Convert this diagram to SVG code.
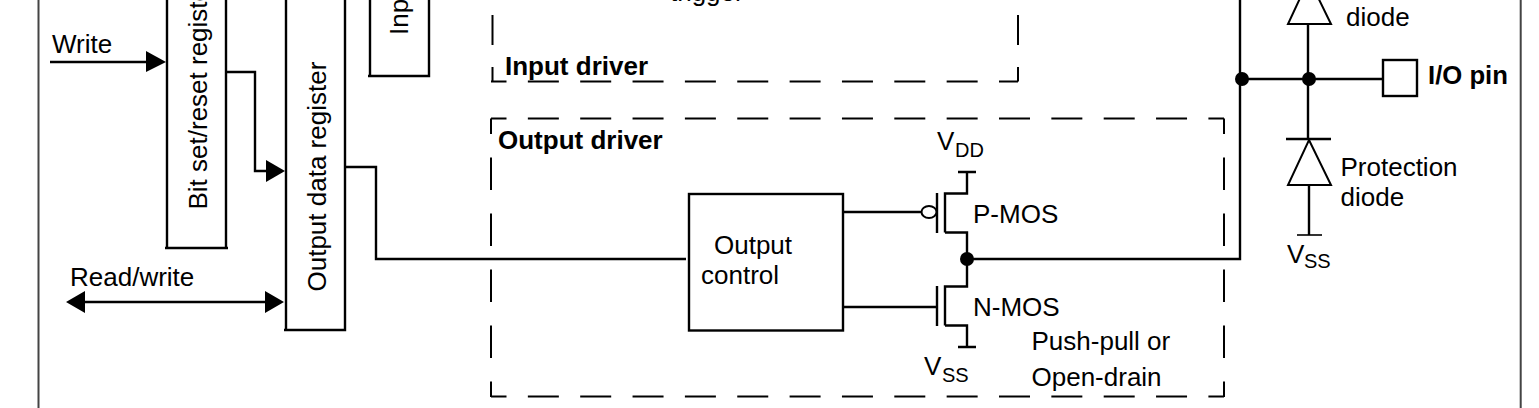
<svg xmlns="http://www.w3.org/2000/svg" width="1539" height="408" viewBox="0 0 1539 408">
<style>
text{font-family:"Liberation Sans",Arial,sans-serif;font-size:26px;fill:#000}
.b{font-weight:700}
.s{font-size:20px}
.w{fill:none;stroke:#000;stroke-width:2.4}
.t{fill:none;stroke:#000;stroke-width:1.6}
.box{fill:#fff;stroke:#000;stroke-width:2.4}
.h{fill:none;stroke:#000;stroke-width:2;stroke-dasharray:31 21.35;stroke-dashoffset:15.5}
.v{fill:none;stroke:#000;stroke-width:2;stroke-dasharray:32.5 23.5;stroke-dashoffset:17}
.d{fill:#000}
</style>
<rect width="1539" height="408" fill="#fff"/>
<g id="frame"><path d="M38.5 0V408M1520.7 0V408" fill="none" stroke="#444" stroke-width="2"/></g>
<g id="input-driver">
<path class="h" d="M491 81.500H1018"/>
<path class="t" style="stroke-width:2" d="M492.500 15V45M492.500 67V81.500M1018 15V45M1018 67V81.500"/>
<text class="b" x="505" y="75">Input driver</text>
<text x="670" y="1">trigger</text>
</g>
<g id="output-driver">
<path class="h" d="M491 118.500H1224"/>
<path class="h" d="M491 396.500H1224"/>
<path class="v" d="M491 118.500V397"/>
<path class="v" d="M1224 118.500V397"/>
<text class="b" x="498" y="149">Output driver</text>
<text x="1031.500" y="350">Push-pull or</text>
<text x="1031.500" y="386">Open-drain</text>
</g>
<g id="bit-set-reset-register">
<path class="w" d="M167 -5V248H226V-5M165 248H228"/>
<text transform="translate(207 209.500) rotate(-90)">Bit set/reset registers</text>
</g>
<g id="output-data-register">
<path class="w" d="M286 -5V330H345V-5M284 330H346"/>
<text transform="translate(326 291.500) rotate(-90)">Output data register</text>
</g>
<g id="input-data-register">
<path class="w" d="M370 -5V76H429V-5M368 76H430"/>
<text transform="translate(408 35) rotate(-90)">Input data register</text>
</g>
<g id="output-control">
<rect class="box" x="689" y="194" width="154" height="136.500"/>
<text x="714" y="254">Output</text>
<text x="701" y="284">control</text>
</g>
<g id="p-mos">
<path class="w" d="M945 232.500V193.500H967V172M958 172H976M945 232.500H967V259"/>
<path class="w" d="M937 193V233"/>
<ellipse cx="929" cy="212" rx="7.500" ry="6" fill="#fff" stroke="#000" stroke-width="2"/>
<text x="973" y="223">P-MOS</text>
<text x="937" y="150">V</text><text class="s" x="955" y="157">DD</text>
</g>
<g id="n-mos">
<path class="w" d="M945 325.500V286.500H967V259M945 325.500H967V347M958 347H976"/>
<path class="w" d="M937 286V326"/>
<text x="973" y="316">N-MOS</text>
<text x="924" y="375">V</text><text class="s" x="942" y="382">SS</text>
</g>
<g id="protection-diode-top">
<path class="t" style="stroke-width:2" d="M1309 -21L1331 24H1288Z"/>
<text x="1346" y="26">diode</text>
</g>
<g id="protection-diode-bottom">
<path class="w" d="M1286 139H1331"/>
<path class="t" style="stroke-width:2" d="M1309 140L1331 185H1288Z"/>
<path class="t" d="M1297 235H1322"/>
<text x="1340.500" y="176">Protection</text>
<text x="1340.500" y="206">diode</text>
<text x="1287" y="263">V</text><text class="s" x="1304" y="268">SS</text>
</g>
<g id="io-pin">
<rect x="1383" y="60" width="34" height="36" fill="#fff" stroke="#000" stroke-width="2.400"/>
<text class="b" x="1428" y="84" style="font-size:25.7px">I/O pin</text>
</g>
<g id="connectors">
<path class="w" d="M50 62H147"/>
<path class="d" d="M146 51L166 62L146 72Z"/>
<text x="52" y="53">Write</text>
<path class="w" d="M226 72H255V171H267"/>
<path class="d" d="M266 160L285 171L266 182Z"/>
<path class="w" d="M84 302H266"/>
<path class="d" d="M66 302L85 291V313ZM284 302L265 291V313Z"/>
<text x="70" y="286">Read/write</text>
<path class="w" d="M345 167H376V259H686"/>
<path class="w" d="M843 212H922M843 307H937"/>
<path class="w" d="M967 259H1240V0"/>
<path class="w" d="M1240 79H1383"/>
<path class="w" d="M1308 23V139M1309 185V235"/>
<circle class="d" cx="967" cy="259" r="7"/>
<circle class="d" cx="1242" cy="79" r="7"/>
<circle class="d" cx="1309" cy="79" r="7"/>
</g>
</svg>
